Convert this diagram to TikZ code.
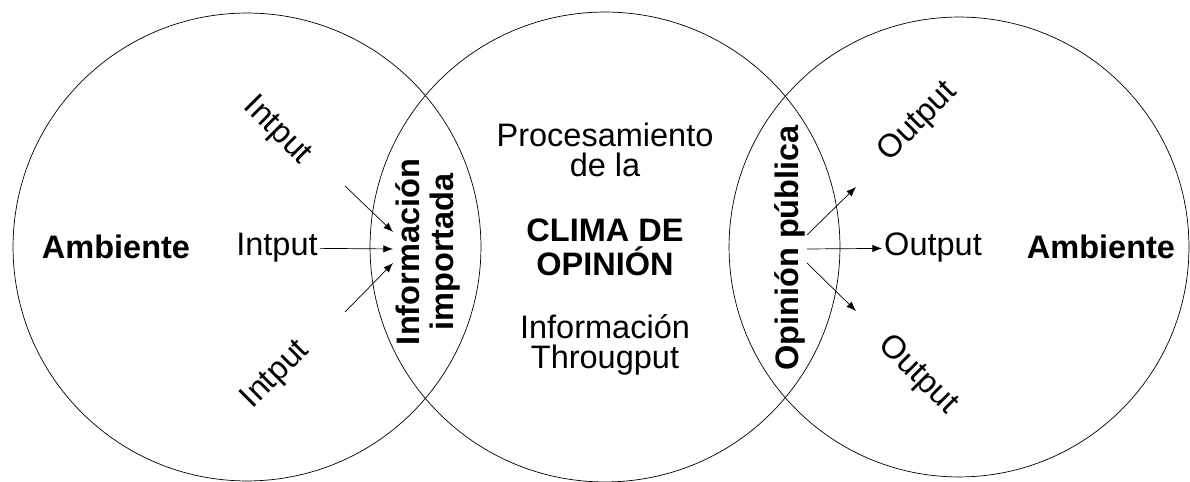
\documentclass[tikz,border=0pt]{standalone}
\usepackage{fontspec}
\setmainfont{Liberation Sans}
\usetikzlibrary{arrows.meta}

\tikzstyle{ring} = [circle,draw,inner sep=0pt]
\tikzstyle{txt} = [font=\fontsize{18.5}{17.5}\selectfont,align=center,inner sep=1pt]
\tikzstyle{bold} = [txt,font=\fontsize{18.5}{19.5}\selectfont\bfseries]
\tikzstyle{arr} = [->,>={Latex[length=5.5pt,width=4.2pt]}]

\begin{document}
\begin{tikzpicture}[x=0.02cm,y=-0.02cm]
	\useasboundingbox (0,0) rectangle (1190,482);
	\node[ring,minimum size=9.36cm] (c1) at (247,247) {};
	\node[ring,minimum size=9.4cm] (c2) at (605,247) {};
	\node[ring,minimum size=9.2cm] (c3) at (959,247) {};
	\node[bold] (amb1) at (116,247) {Ambiente};
	\node[bold] (amb2) at (1101,247) {Ambiente};
	\node[txt] (in1) at (277,131) [rotate=-45] {Intput};
	\node[txt] (in2) at (277,248) {Intput};
	\node[txt] (in3) at (276,375) [rotate=45] {Intput};
	\node[bold] (imp) at (428,252) [rotate=90] {Información\\importada};
	\node[txt] (proc) at (605,150) {Procesamiento\\de la};
	\node[bold] (clima) at (605,247) {CLIMA DE\\OPINIÓN};
	\node[txt] (thr) at (605,345) {Información\\Througput};
	\node[bold] (pub) at (790,248) [rotate=90] {Opinión pública};
	\node[txt] (out1) at (918,122) [rotate=45] {Output};
	\node[txt] (out2) at (933,248) {Output};
	\node[txt] (out3) at (918,375) [rotate=-45] {Output};
	\coordinate (a1) at (345,186);
	\coordinate (a3) at (345,312);
	\coordinate (h1) at (393,232);
	\coordinate (h2) at (393,249);
	\coordinate (h3) at (393,263);
	\coordinate (p1) at (807,235);
	\coordinate (p2) at (807,249);
	\coordinate (p3) at (807,263);
	\coordinate (b1) at (856,187);
	\coordinate (b3) at (856,311);
	\draw[arr] (a1) -- (h1);
	\draw[arr] (in2) -- (h2);
	\draw[arr] (a3) -- (h3);
	\draw[arr] (p1) -- (b1);
	\draw[arr] (p2) -- (out2);
	\draw[arr] (p3) -- (b3);
\end{tikzpicture}
\end{document}
